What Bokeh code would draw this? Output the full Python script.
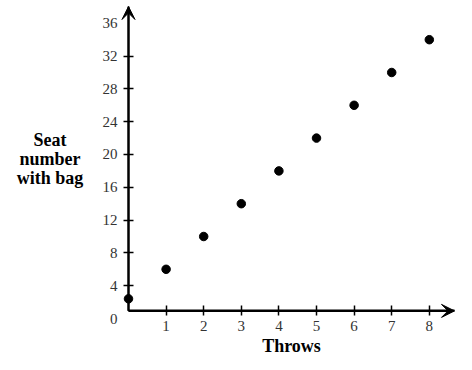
from bokeh.plotting import figure
from bokeh.models import Range1d, FixedTicker, Arrow, VeeHead, Label
from bokeh.embed import file_html
from bokeh.resources import INLINE

throws = [0, 1, 2, 3, 4, 5, 6, 7, 8]
seat = [2.4, 6, 10, 14, 18, 22, 26, 30, 34]
x_ticks = [1, 2, 3, 4, 5, 6, 7, 8]
y_ticks = [0, 4, 8, 12, 16, 20, 24, 28, 32, 36]
x_title = "Throws"
y_title = "Seat\nnumber\nwith bag"

FONT = "Liberation Serif"
# layout (data space spanned by the canvas)
XMIN, XMAX = -3.404, 8.723
YMIN, YMAX = -4.39, 38.78
X_AX = 0          # where the y axis sits
Y_AX = 0.93       # where the x axis sits
X_TIP, Y_TIP = 8.67, 38.05

p = figure(width=456, height=354, output_backend="svg", toolbar_location=None,
           x_range=Range1d(XMIN, XMAX), y_range=Range1d(YMIN, YMAX),
           min_border=0)
p.outline_line_color = None
p.grid.visible = False
p.background_fill_color = "white"

for ax in (p.xaxis, p.yaxis):
    ax.axis_line_width = 2
    ax.axis_line_color = "black"
    ax.major_tick_line_width = 1.5
    ax.major_tick_line_color = "black"
    ax.major_tick_in = 5
    ax.major_tick_out = 5
    ax.minor_tick_line_color = None
    ax.major_label_text_font = FONT
    ax.major_label_text_font_size = "15px"
    ax.major_label_text_color = "#333333"
    ax.axis_label_text_font = FONT
    ax.axis_label_text_font_style = "bold"
    ax.axis_label_text_font_size = "18px"
    ax.axis_label_text_color = "black"

p.xaxis.fixed_location = Y_AX
p.yaxis.fixed_location = X_AX
p.xaxis.bounds = (X_AX, X_TIP)
p.yaxis.bounds = (Y_AX, Y_TIP)

inner_y = [t for t in y_ticks if Y_AX < t < y_ticks[-1]]
p.xaxis.ticker = FixedTicker(ticks=x_ticks)
p.yaxis.ticker = FixedTicker(ticks=inner_y)
p.xaxis.major_label_standoff = 5
p.yaxis.major_label_standoff = 6
p.xaxis.axis_label = x_title
p.xaxis.axis_label_standoff = 2

# y title, centred lines, to the left of the tick labels
p.add_layout(Label(x=-2.09, y=19.5, text=y_title, text_align="center",
                   text_baseline="middle", text_font=FONT,
                   text_font_style="bold", text_font_size="18px",
                   text_line_height=0.95, text_color="black"))

# tick labels without tick marks (0 below the x axis, 36 beside the arrow)
for t in (y_ticks[0], y_ticks[-1]):
    p.add_layout(Label(x=X_AX, y=t, text=str(t), x_offset=-11, text_align="right",
                       text_baseline="middle", text_font=FONT,
                       text_font_size="15px", text_color="#333333"))

# arrow heads on the axes
p.add_layout(Arrow(x_start=X_AX, y_start=Y_AX, x_end=X_TIP, y_end=Y_AX, line_width=2,
                   line_color="black",
                   end=VeeHead(size=13, fill_color="black", line_color="black")))
p.add_layout(Arrow(x_start=X_AX, y_start=Y_AX, x_end=X_AX, y_end=Y_TIP, line_width=2,
                   line_color="black",
                   end=VeeHead(size=13, fill_color="black", line_color="black")))

p.scatter(throws, seat, size=8.5, color="black")

open("out.html", "w").write(file_html(p, INLINE))
